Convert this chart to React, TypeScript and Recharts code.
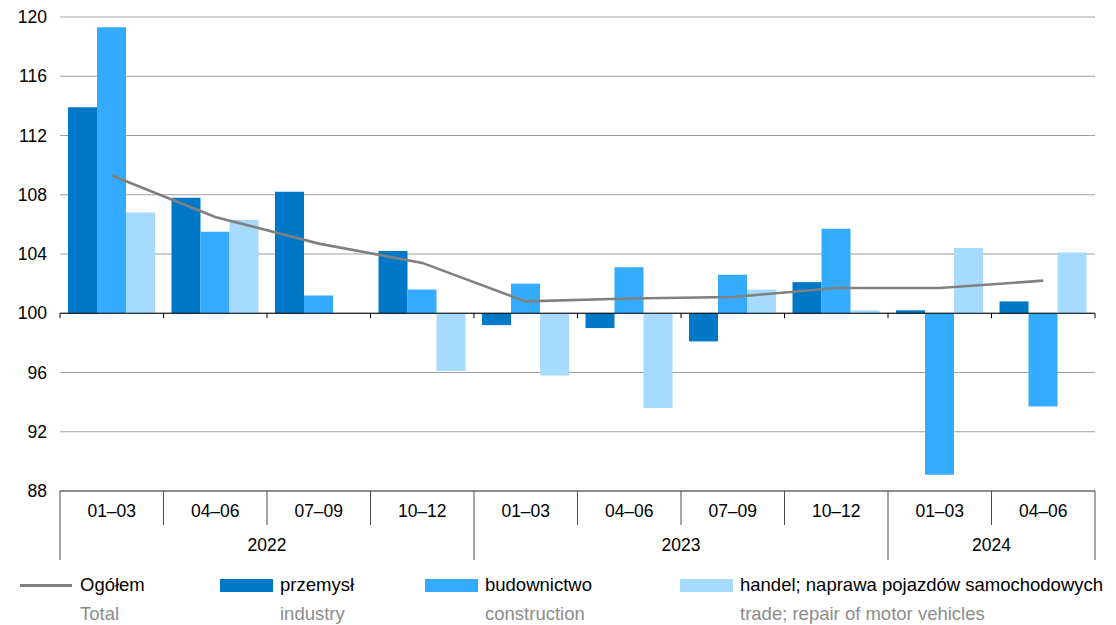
import { ComposedChart, Bar, Line, XAxis, YAxis, CartesianGrid, ReferenceLine } from 'recharts';

// kwartały i lata
const quarters = ['01–03', '04–06', '07–09', '10–12', '01–03', '04–06', '07–09', '10–12', '01–03', '04–06'];
const years = ['2022', '2022', '2022', '2022', '2023', '2023', '2023', '2023', '2024', '2024'];

// analogiczny okres roku poprzedniego = 100
const total = [109.3, 106.5, 104.7, 103.4, 100.8, 101.0, 101.1, 101.7, 101.7, 102.2];
const industry = [113.9, 107.8, 108.2, 104.2, 99.2, 99.0, 98.1, 102.1, 100.2, 100.8];
const construction = [119.3, 105.5, 101.2, 101.6, 102.0, 103.1, 102.6, 105.7, 89.1, 93.7];
const trade = [106.8, 106.3, 100.0, 96.1, 95.8, 93.6, 101.6, 100.2, 104.4, 104.1];

const yTicks = [88, 92, 96, 100, 104, 108, 112, 116, 120];

const COLORS = {
  total: '#808080',
  industry: '#0078c8',
  construction: '#35abff',
  trade: '#a6daff',
};

const W = 1116;
const H = 571;
const M = { top: 17, right: 21, bottom: 0, left: 0 };
const Y_W = 60;
const X_H = 80;
const PLOT_L = M.left + Y_W;
const PLOT_R = W - M.right;
const PLOT_T = M.top;
const PLOT_B = H - M.bottom - X_H;
const BAND = (PLOT_R - PLOT_L) / quarters.length;
const Y100 = PLOT_T + ((PLOT_B - PLOT_T) * (120 - 100)) / (120 - 88);

const FONT = '"Liberation Sans", Arial, sans-serif';
const AXIS_FS = 17.5;
const LINE_CLR = '#4d4d4d';

const data = quarters.map((q, i) => ({
  quarter: q,
  year: years[i],
  total: total[i],
  industry: industry[i],
  construction: construction[i],
  trade: trade[i],
}));

// słupki od poziomu 100
const fromBase = (key: 'industry' | 'construction' | 'trade') => (d: any) => {
  const v = d[key];
  if (v == null) return null;
  return [Math.min(100, v), Math.max(100, v)];
};

function QuarterTick(props: any) {
  const { x, index } = props;
  const left = x - BAND / 2;
  const yearStart = index === 0 || years[index] !== years[index - 1];
  const isLast = index === quarters.length - 1;

  let yearLabel = null;
  if (yearStart) {
    let n = 0;
    while (index + n < years.length && years[index + n] === years[index]) n++;
    yearLabel = (
      <text x={left + (n * BAND) / 2} y={PLOT_B + 54} textAnchor="middle" dominantBaseline="central" fontSize={AXIS_FS} fontFamily={FONT} fill="#000">
        {years[index]}
      </text>
    );
  }

  return (
    <g>
      <line x1={left} x2={left} y1={PLOT_B} y2={yearStart ? PLOT_B + 69 : PLOT_B + 34} stroke={LINE_CLR} />
      <line x1={left} x2={left} y1={Y100} y2={Y100 + 5} stroke="#000" />
      {isLast && (
        <>
          <line x1={left + BAND} x2={left + BAND} y1={PLOT_B} y2={PLOT_B + 69} stroke={LINE_CLR} />
          <line x1={left + BAND} x2={left + BAND} y1={Y100} y2={Y100 + 5} stroke="#000" />
        </>
      )}
      <text x={x} y={PLOT_B + 20} textAnchor="middle" dominantBaseline="central" fontSize={AXIS_FS} fontFamily={FONT} fill="#000">
        {quarters[index]}
      </text>
      {yearLabel}
    </g>
  );
}

const legendItems = [
  { pl: 'Ogółem', en: 'Total', color: COLORS.total, line: true, x: 20 },
  { pl: 'przemysł', en: 'industry', color: COLORS.industry, line: false, x: 220 },
  { pl: 'budownictwo', en: 'construction', color: COLORS.construction, line: false, x: 425 },
  { pl: 'handel; naprawa pojazdów samochodowych', en: 'trade; repair of motor vehicles', color: COLORS.trade, line: false, x: 680 },
];

export default function App() {
  return (
    <div style={{ position: 'absolute', left: 0, top: 0, width: W, height: 625, background: '#fff', fontFamily: FONT }}>
      <ComposedChart width={W} height={H} data={data} margin={M} barCategoryGap={8} barGap={0}>
        <CartesianGrid vertical={false} stroke="#a0a0a0" strokeWidth={1.2} />
        <YAxis
          domain={[88, 120]}
          ticks={yTicks}
          width={Y_W}
          axisLine={false}
          tickLine={false}
          tickMargin={7}
          interval={0}
          tick={{ fontSize: AXIS_FS, fill: '#000', fontFamily: FONT }}
        />
        <XAxis
          dataKey="quarter"
          height={X_H}
          interval={0}
          tickLine={false}
          axisLine={{ stroke: LINE_CLR }}
          tick={<QuarterTick />}
        />
        <Bar dataKey={fromBase('industry')} name="przemysł" fill={COLORS.industry} isAnimationActive={false} />
        <Bar dataKey={fromBase('construction')} name="budownictwo" fill={COLORS.construction} isAnimationActive={false} />
        <Bar dataKey={fromBase('trade')} name="handel" fill={COLORS.trade} isAnimationActive={false} />
        <ReferenceLine y={100} stroke="#000" strokeWidth={1.2} />
        <Line
          type="linear"
          dataKey="total"
          name="Ogółem"
          stroke={COLORS.total}
          strokeWidth={2.6}
          dot={false}
          activeDot={false}
          isAnimationActive={false}
        />
      </ComposedChart>

      {legendItems.map((it) => (
        <div key={it.pl} style={{ position: 'absolute', left: it.x, top: 573, whiteSpace: 'nowrap' }}>
          {it.line ? (
            <div style={{ position: 'absolute', left: 0, top: 11, width: 52, height: 3, background: it.color }} />
          ) : (
            <div style={{ position: 'absolute', left: 0, top: 6, width: 53, height: 13, background: it.color }} />
          )}
          <div style={{ position: 'absolute', left: 60, top: 0, fontSize: 18.5, lineHeight: '24px', color: '#000' }}>{it.pl}</div>
          <div style={{ position: 'absolute', left: 60, top: 29, fontSize: 18.5, lineHeight: '24px', color: '#8c8c8c' }}>{it.en}</div>
        </div>
      ))}
    </div>
  );
}
